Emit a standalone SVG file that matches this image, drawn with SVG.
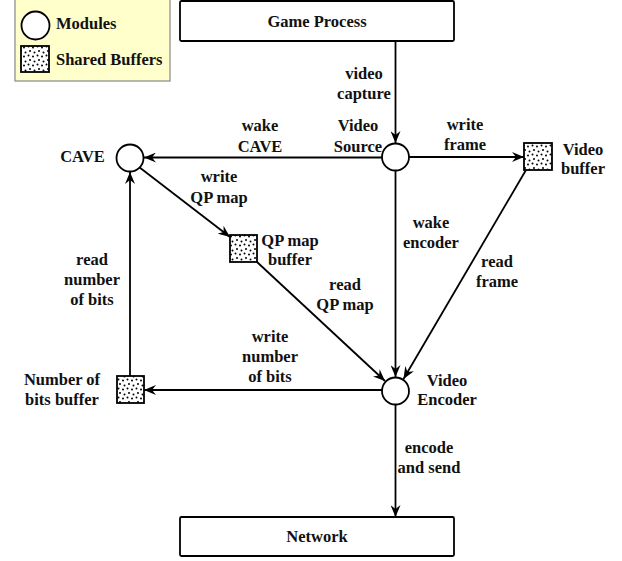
<svg xmlns="http://www.w3.org/2000/svg" width="622" height="561" viewBox="0 0 622 561">
<defs>
<pattern id="dots" width="9" height="9" patternUnits="userSpaceOnUse">
<rect width="9" height="9" fill="#fff"/>
<circle cx="1.5" cy="1.5" r="1" fill="#000"/>
<circle cx="6" cy="2.5" r="1" fill="#000"/>
<circle cx="3" cy="6" r="1" fill="#000"/>
<circle cx="7.5" cy="7.5" r="1" fill="#000"/>
</pattern>
<marker id="arr" viewBox="0 0 12 10" refX="12" refY="5" markerWidth="12" markerHeight="10" markerUnits="userSpaceOnUse" orient="auto">
<path d="M0,0 L12,5 L0,10 L4,5 Z" fill="#000"/>
</marker>
<style>
text{font-family:"Liberation Serif","DejaVu Serif",serif;font-weight:bold;font-size:16.5px;fill:#111}
.c{text-anchor:middle}
.mod{fill:#fff;stroke:#000;stroke-width:1.8}
.buf{fill:url(#dots);stroke:#000;stroke-width:1.8}
.box{fill:#fff;stroke:#000;stroke-width:1.8}
.ln{stroke:#000;stroke-width:1.8;fill:none;marker-end:url(#arr)}
</style>
</defs>
<g id="legend">
<rect x="15" y="-1" width="155" height="82" fill="#ffffcc" stroke="#888" stroke-width="1.2"/>
<circle class="mod" cx="35.5" cy="25.5" r="14"/>
<text x="56" y="29">Modules</text>
<rect class="buf" x="21" y="46" width="28" height="26"/>
<text x="56" y="65">Shared Buffers</text>
</g>
<g id="connectors">
<line class="ln" x1="395.5" y1="41" x2="395.5" y2="143"/>
<line class="ln" x1="382" y1="157.5" x2="144" y2="157.5"/>
<line class="ln" x1="409" y1="157" x2="524" y2="157"/>
<line class="ln" x1="395.5" y1="171" x2="395.5" y2="377"/>
<line class="ln" x1="526" y1="170" x2="403.5" y2="379"/>
<line class="ln" x1="139" y1="167" x2="230" y2="237"/>
<line class="ln" x1="257" y1="262" x2="385" y2="381"/>
<line class="ln" x1="382" y1="390" x2="144" y2="390"/>
<line class="ln" x1="130" y1="376" x2="130" y2="172"/>
<line class="ln" x1="395.5" y1="405" x2="395.5" y2="517"/>
</g>
<g id="game-process">
<rect class="box" x="180" y="1" width="274" height="40" rx="1.5"/>
<text class="c" x="317" y="27">Game Process</text>
</g>
<g id="network">
<rect class="box" x="180" y="517" width="274" height="39" rx="1.5"/>
<text class="c" x="317" y="542">Network</text>
</g>
<g id="video-source">
<circle class="mod" cx="395.5" cy="157" r="13.5"/>
<text class="c" x="358" y="131">Video</text>
<text class="c" x="358" y="152">Source</text>
</g>
<g id="cave">
<circle class="mod" cx="130" cy="158" r="13.5"/>
<text class="c" x="82.5" y="162">CAVE</text>
</g>
<g id="video-buffer">
<rect class="buf" x="524" y="143" width="28" height="27"/>
<text class="c" x="583" y="155">Video</text>
<text class="c" x="583" y="174">buffer</text>
</g>
<g id="qp-buffer">
<rect class="buf" x="230" y="235" width="27" height="27"/>
<text class="c" x="290" y="246">QP map</text>
<text class="c" x="290" y="265">buffer</text>
</g>
<g id="bits-buffer">
<rect class="buf" x="117" y="376" width="27" height="27"/>
<text class="c" x="62" y="385">Number of</text>
<text class="c" x="62" y="405">bits buffer</text>
</g>
<g id="video-encoder">
<circle class="mod" cx="395.5" cy="391" r="13.5"/>
<text class="c" x="447" y="386">Video</text>
<text class="c" x="447" y="405">Encoder</text>
</g>
<g id="labels">
<text class="c" x="364" y="79">video</text>
<text class="c" x="364" y="99">capture</text>
<text class="c" x="260" y="131">wake</text>
<text class="c" x="260" y="152">CAVE</text>
<text class="c" x="465" y="130">write</text>
<text class="c" x="465" y="150">frame</text>
<text class="c" x="219" y="182">write</text>
<text class="c" x="219" y="203">QP map</text>
<text class="c" x="431" y="228">wake</text>
<text class="c" x="431" y="248">encoder</text>
<text class="c" x="497" y="267">read</text>
<text class="c" x="497" y="287">frame</text>
<text class="c" x="345" y="290">read</text>
<text class="c" x="345" y="310">QP map</text>
<text class="c" x="270" y="342">write</text>
<text class="c" x="270" y="362">number</text>
<text class="c" x="270" y="382">of bits</text>
<text class="c" x="92" y="265">read</text>
<text class="c" x="92" y="285">number</text>
<text class="c" x="92" y="305">of bits</text>
<text class="c" x="429" y="453">encode</text>
<text class="c" x="429" y="473">and send</text>
</g>
</svg>
